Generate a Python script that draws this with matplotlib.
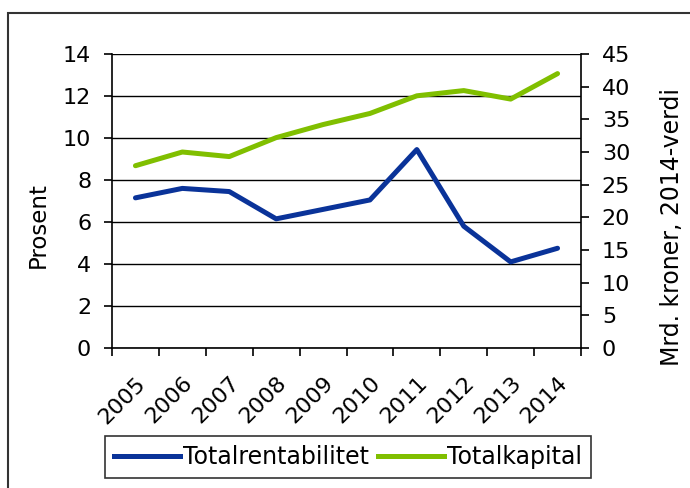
import matplotlib.pyplot as plt
import numpy as np
from matplotlib.lines import Line2D
from matplotlib.patches import Rectangle

# Data
years = ["2005", "2006", "2007", "2008", "2009", "2010", "2011", "2012", "2013", "2014"]
totalrentabilitet = [7.15, 7.6, 7.45, 6.15, 6.6, 7.05, 9.45, 5.8, 4.1, 4.75]   # prosent, venstre akse
totalkapital = [27.9, 30.0, 29.3, 32.2, 34.2, 35.9, 38.6, 39.4, 38.1, 42.0]    # mrd. kr, høyre akse

blue = "#0A3399"
green = "#80BF00"

plt.rcParams['font.family'] = ['DejaVu Sans']

fig = plt.figure(figsize=(6.9, 4.88), dpi=100)
ax = fig.add_axes([112 / 690, 1 - 348 / 488, (581 - 112) / 690, (348 - 54) / 488])
ax2 = ax.twinx()

x = np.arange(len(years))
ax.plot(x, totalrentabilitet, color=blue, lw=3.6, solid_capstyle='round', zorder=3)
ax2.plot(x, totalkapital, color=green, lw=3.6, solid_capstyle='round', zorder=3)

ax.set_xlim(-0.5, len(years) - 0.5)
ax.set_ylim(0, 14)
ax.set_yticks(np.arange(0, 15, 2))
ax2.set_ylim(0, 45)
ax2.set_yticks(np.arange(0, 46, 5))

# gridlines på venstre akse
ax.grid(axis='y', color='black', lw=1.0)
ax.set_axisbelow(True)

# kategorier: etiketter i midten, streker på grensene
ax.set_xticks(x)
ax.set_xticklabels(years, rotation=45, ha='right', va='top', rotation_mode='anchor', fontsize=16)
ax.tick_params(axis='x', which='major', length=0, pad=18)
ax.set_xticks(np.arange(-0.5, len(years)), minor=True)
ax.tick_params(axis='x', which='minor', length=6, width=1.2, direction='out')

ax.tick_params(axis='y', length=6, width=1.2, labelsize=16, pad=9)
ax2.tick_params(axis='y', length=6, width=1.2, labelsize=16, pad=9)

for a in (ax, ax2):
    a.spines['top'].set_visible(False)
    for s in ('left', 'right', 'bottom'):
        a.spines[s].set_linewidth(1.2)
ax.spines['right'].set_visible(False)
ax2.spines['left'].set_visible(False)
ax2.spines['bottom'].set_visible(False)

fig.text(38 / 690, 1 - 225 / 488, "Prosent", rotation=90, ha='center', va='center', fontsize=16.5)
fig.text(672 / 690, 1 - 227 / 488, "Mrd. kroner, 2014-verdi", rotation=90,
         ha='center', va='center', fontsize=17)

handles = [Line2D([], [], color=blue, lw=3.6), Line2D([], [], color=green, lw=3.6)]
leg = fig.legend(handles, ["Totalrentabilitet", "Totalkapital"], loc='center',
                 bbox_to_anchor=(348 / 690, 1 - 457 / 488), ncol=2, fontsize=17,
                 frameon=True, fancybox=False, edgecolor='black', handlelength=2.8,
                 handletextpad=0.1, columnspacing=0.4, borderpad=0.4, borderaxespad=0)
leg.get_frame().set_linewidth(1.2)

# ramme rundt hele figuren
fig.patches.append(Rectangle((8 / 690, -0.1), 1.2, 1 - 13 / 488 + 0.1, transform=fig.transFigure,
                             fill=False, edgecolor='#333333', lw=1.5))

plt.savefig("out.png", dpi=100)
